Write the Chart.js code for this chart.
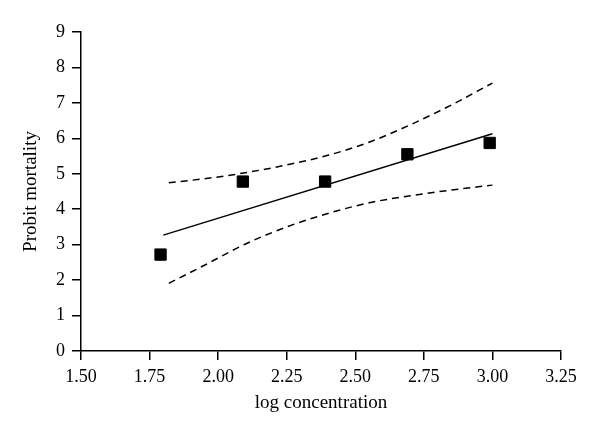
<!DOCTYPE html>
<html>
<head>
<meta charset="utf-8">
<script src="https://cdn.jsdelivr.net/npm/chart.js@4"></script>
<style>
  html, body { margin: 0; padding: 0; background: #fff; }
  #wrap { width: 600px; height: 436px; }
</style>
</head>
<body>
<div id="wrap"><canvas id="probitChart" width="600" height="436"></canvas></div>
<script>
// observed points
const logConc = [1.79, 2.09, 2.39, 2.69, 2.99];
const probit = [2.72, 4.78, 4.78, 5.55, 5.87];

// fitted regression line
const fitX = [1.80, 3.00];
const fitY = [3.27, 6.13];

// confidence limits (dashed)
const bandX = [1.82, 1.95, 2.10, 2.25, 2.40, 2.55, 2.70, 2.85, 3.00];
const upperY = [4.75, 4.86, 5.03, 5.25, 5.52, 5.89, 6.38, 6.94, 7.56];
const lowerY = [1.91, 2.42, 3.02, 3.50, 3.88, 4.18, 4.38, 4.54, 4.68];

const xTicks = [1.50, 1.75, 2.00, 2.25, 2.50, 2.75, 3.00, 3.25];

function toPoints(xs, ys) {
  return xs.map((x, i) => ({ x: x, y: ys[i] }));
}

const fontFamily = '"Liberation Serif", "DejaVu Serif", serif';

const lineStyle = {
  showLine: true,
  pointRadius: 0,
  borderColor: '#000',
  borderWidth: 1.5,
  fill: false
};

new Chart(document.getElementById('probitChart'), {
  type: 'scatter',
  data: {
    datasets: [
      { ...lineStyle, label: 'upper', data: toPoints(bandX, upperY), borderDash: [7, 5], cubicInterpolationMode: 'monotone' },
      { ...lineStyle, label: 'lower', data: toPoints(bandX, lowerY), borderDash: [7, 5], cubicInterpolationMode: 'monotone' },
      { ...lineStyle, label: 'fit', data: toPoints(fitX, fitY) },
      {
        label: 'observed',
        data: toPoints(logConc, probit),
        pointStyle: 'rect',
        pointRadius: 8,
        backgroundColor: '#000',
        borderColor: '#000',
        borderWidth: 1
      }
    ]
  },
  options: {
    responsive: false,
    animation: false,
    layout: { padding: { left: 0, right: 39, top: 32, bottom: 0 } },
    plugins: {
      legend: { display: false },
      tooltip: { enabled: false }
    },
    scales: {
      x: {
        type: 'linear',
        min: 1.5,
        max: 3.25,
        afterBuildTicks: axis => { axis.ticks = xTicks.map(v => ({ value: v })); },
        afterFit: axis => { axis.height = 85; },
        border: { display: true, color: '#000', width: 1.5 },
        grid: { drawOnChartArea: false, drawTicks: true, tickLength: 9, color: '#000', lineWidth: 1.5 },
        ticks: {
          padding: 6,
          color: '#000',
          font: { family: fontFamily, size: 18 },
          callback: v => v.toFixed(2)
        },
        title: {
          display: true,
          text: 'log concentration',
          color: '#000',
          font: { family: fontFamily, size: 19 },
          padding: { top: 0, bottom: 22 }
        }
      },
      y: {
        type: 'linear',
        min: 0,
        max: 9,
        afterFit: axis => { axis.width = 81; },
        border: { display: true, color: '#000', width: 1.5 },
        grid: { drawOnChartArea: false, drawTicks: true, tickLength: 9, color: '#000', lineWidth: 1.5 },
        ticks: {
          stepSize: 1,
          padding: 7,
          color: '#000',
          font: { family: fontFamily, size: 18 }
        },
        title: {
          display: true,
          text: 'Probit mortality',
          color: '#000',
          font: { family: fontFamily, size: 19 },
          padding: { top: 20, bottom: 0 }
        }
      }
    }
  }
});
</script>
</body>
</html>
